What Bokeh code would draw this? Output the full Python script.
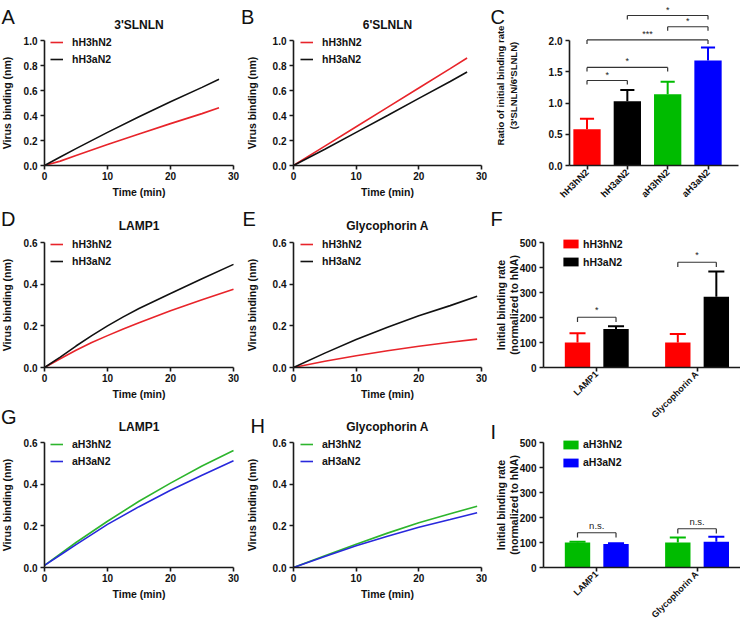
import math
from bokeh.plotting import figure
from bokeh.models import (Range1d, FixedTicker, PrintfTickFormatter, Legend,
                          LegendItem, Label, LinearAxis)
from bokeh.core.properties import value
from bokeh.embed import file_html
from bokeh.resources import INLINE

FONT = "Liberation Sans"
CW, CH = 740, 624

# ---------------- data ----------------
# Panel A: 3'SLNLN
time_A = [0, 2.5, 5, 10, 15, 20, 25, 27.7]
A_hH3hN2 = [0, 0.035, 0.08, 0.168, 0.252, 0.335, 0.415, 0.462]
A_hH3aN2 = [0, 0.068, 0.135, 0.265, 0.39, 0.51, 0.625, 0.69]
# Panel B: 6'SLNLN
time_B = [0, 5, 10, 15, 20, 25, 27.7]
B_hH3hN2 = [0, 0.155, 0.31, 0.465, 0.62, 0.775, 0.86]
B_hH3aN2 = [0, 0.13, 0.265, 0.4, 0.537, 0.672, 0.748]
# Panel D: LAMP1
time_D = [0, 2.5, 5, 7.5, 10, 12.5, 15, 20, 25, 30]
D_hH3hN2 = [0, 0.042, 0.083, 0.12, 0.153, 0.185, 0.215, 0.272, 0.325, 0.376]
D_hH3aN2 = [0, 0.05, 0.103, 0.153, 0.2, 0.243, 0.283, 0.355, 0.426, 0.495]
# Panel E: Glycophorin A
time_E = [0, 5, 10, 15, 20, 25, 29.3]
E_hH3hN2 = [0, 0.03, 0.056, 0.08, 0.102, 0.121, 0.136]
E_hH3aN2 = [0, 0.069, 0.134, 0.193, 0.248, 0.297, 0.342]
# Panel G: LAMP1
time_G = [0, 2.5, 5, 10, 15, 20, 25, 30]
G_aH3hN2 = [0.01, 0.065, 0.12, 0.222, 0.318, 0.405, 0.487, 0.562]
G_aH3aN2 = [0.01, 0.06, 0.11, 0.207, 0.292, 0.371, 0.443, 0.512]
# Panel H: Glycophorin A
time_H = [0, 5, 10, 15, 20, 25, 29.3]
H_aH3hN2 = [0, 0.056, 0.112, 0.165, 0.215, 0.258, 0.294]
H_aH3aN2 = [0, 0.053, 0.104, 0.15, 0.193, 0.23, 0.263]

# Panel C: ratio of initial binding rate
ratio_groups = ["hH3hN2", "hH3aN2", "aH3hN2", "aH3aN2"]
ratio_mean = [0.58, 1.03, 1.14, 1.68]
ratio_err = [0.17, 0.18, 0.20, 0.21]
ratio_colors = ["#ff0000", "#000000", "#00bb00", "#0000ff"]
C_br_left = [0, 0, 0, 2, 1]
C_br_right = [1, 2, 3, 3, 3]
C_br_y = [1.36, 1.57, 2.01, 2.22, 2.40]
C_br_text = ["*", "*", "***", "*", "*"]

# Panels F / I: initial binding rate (normalized to hNA)
rate_groups = ["LAMP1", "Glycophorin A"]
F_hH3hN2 = [100, 100]
F_hH3hN2_err = [37, 34]
F_hH3aN2 = [154, 283]
F_hH3aN2_err = [11, 101]
F_br_y = [201, 421]
F_br_text = ["*", "*"]
I_aH3hN2 = [100, 100]
I_aH3hN2_err = [3, 20]
I_aH3aN2 = [94, 103]
I_aH3aN2_err = [3, 20]
I_br_y = [139, 155]
I_br_text = ["n.s.", "n.s."]

time_ticks = [0, 10, 20, 30]
y_ticks_1 = [0, 0.2, 0.4, 0.6, 0.8, 1.0]
y_ticks_06 = [0, 0.2, 0.4, 0.6]
y_ticks_C = [0, 0.5, 1.0, 1.5, 2.0]
y_ticks_rate = [0, 100, 200, 300, 400, 500]

RED_L, BLACK_L, GREEN_L, BLUE_L = "#e8242a", "#111111", "#2db52d", "#2828dc"
RED_B, BLACK_B, GREEN_B, BLUE_B = "#ff0000", "#000000", "#00bb00", "#0000ff"

# ---------------- one canvas, one frame ----------------
p = figure(width=CW, height=CH, x_range=Range1d(0, CW), y_range=Range1d(0, CH),
           x_axis_location=None, y_axis_location=None, output_backend="svg",
           toolbar_location=None, tools="", min_border=0,
           min_border_left=0, min_border_right=0, min_border_top=0,
           min_border_bottom=0)
p.outline_line_color = None
p.background_fill_color = "white"
p.border_fill_color = "white"
p.xgrid.grid_line_color = None
p.ygrid.grid_line_color = None
p.xgrid.visible = False
p.ygrid.visible = False


def add_ranges(name, box, xr, yr):
    left, right, top, bottom = box
    kx = (right - left) / (xr[1] - xr[0])
    ky = (bottom - top) / (yr[1] - yr[0])
    p.extra_x_ranges = {**p.extra_x_ranges,
                        name + "_x": Range1d(xr[0] - left / kx,
                                             xr[0] + (CW - left) / kx)}
    p.extra_y_ranges = {**p.extra_y_ranges,
                        name + "_y": Range1d(yr[0] - (CH - bottom) / ky,
                                             yr[0] + bottom / ky)}
    return dict(x_range_name=name + "_x", y_range_name=name + "_y")


def style_axis(ax):
    ax.axis_line_width = 1.6
    ax.axis_line_color = "#1a1a1a"
    ax.major_tick_line_width = 1.6
    ax.major_tick_line_color = "#1a1a1a"
    ax.major_tick_out = 4
    ax.major_tick_in = 0
    ax.minor_tick_line_color = None
    ax.major_label_text_font = FONT
    ax.major_label_text_font_style = "bold"
    ax.major_label_text_font_size = "10px"
    ax.major_label_text_color = "#111111"
    ax.axis_label_text_font = FONT
    ax.axis_label_text_font_style = "bold"
    ax.axis_label_text_font_size = "10.5px"
    ax.axis_label_text_color = "#111111"


def add_axes(rn, xr, yr, xticks, yticks, yfmt, xlabel=None, ylabel=None,
             yl_standoff=8, ybounds=None):
    yax = LinearAxis(fixed_location=xr[0], bounds=ybounds or yr,
                     ticker=FixedTicker(ticks=yticks),
                     formatter=PrintfTickFormatter(format=yfmt), **rn)
    style_axis(yax)
    yax.major_label_standoff = 3
    if ylabel:
        yax.axis_label = ylabel
        yax.axis_label_standoff = yl_standoff
    p.add_layout(yax, "left")
    xax = LinearAxis(fixed_location=yr[0], bounds=xr,
                     ticker=FixedTicker(ticks=xticks), **rn)
    style_axis(xax)
    xax.major_label_standoff = 2
    if xlabel:
        xax.axis_label = xlabel
        xax.axis_label_standoff = 3
    p.add_layout(xax, "below")
    return xax, yax


def add_text(x, ref_y, text, size, bold=False, align="left",
             baseline="alphabetic", angle=0):
    p.add_layout(Label(x=x, y=CH - ref_y, text=text, text_font=FONT,
                       text_font_size=size,
                       text_font_style="bold" if bold else "normal",
                       text_color="#111111", text_align=align,
                       text_baseline=baseline, angle=angle))


def legend_at(items, gx, row1_center, glyph_w, glyph_h, spacing, standoff):
    height = 14 * 2 + spacing
    bottom = row1_center - 7 + height
    p.add_layout(Legend(items=items, location=(gx, CH - bottom), padding=0,
                        margin=0, spacing=spacing, glyph_width=glyph_w,
                        glyph_height=glyph_h, label_height=14,
                        label_standoff=standoff, background_fill_alpha=0,
                        border_line_color=None, label_text_font=FONT,
                        label_text_font_style="bold",
                        label_text_font_size="10.5px",
                        label_text_color="#111111"))


def add_brackets(rn, xl, xr_, ys, texts, leg, size, yoff):
    x0, y0, x1, y1 = [], [], [], []
    for a, b, y in zip(xl, xr_, ys):
        x0 += [a, a, b]
        y0 += [y, y, y]
        x1 += [b, a, b]
        y1 += [y, y - leg, y - leg]
    p.segment(x0=x0, y0=y0, x1=x1, y1=y1, line_color="#333333",
              line_width=1.2, **rn)
    p.text(x=[(a + b) / 2 for a, b in zip(xl, xr_)], y=ys, text=texts,
           text_font=value(FONT), text_font_size=size, text_color="#222222",
           text_align="center", text_baseline="bottom", y_offset=yoff, **rn)


def line_panel(name, box, t, s1, s2, c1, c2, n1, n2, ymax, yticks, title,
               title_base, yl_standoff, leg_x):
    xr, yr = (0, 30), (0, ymax)
    rn = add_ranges(name, box, xr, yr)
    add_axes(rn, xr, yr, time_ticks, yticks, "%.1f", "Time (min)",
             "Virus binding (nm)", yl_standoff)
    r1 = p.line(t, s1, line_color=c1, line_width=1.6, **rn)
    r2 = p.line(t, s2, line_color=c2, line_width=1.6, **rn)
    legend_at([LegendItem(label=n1, renderers=[r1]),
               LegendItem(label=n2, renderers=[r2])],
              leg_x, box[2] + 1.5, 13, 14, 3, 9)
    add_text((box[0] + box[1]) / 2, title_base, title, "12px", bold=True,
             align="center")


# ---------------- line panels ----------------
line_panel("A", (44, 233, 40, 165), time_A, A_hH3hN2, A_hH3aN2, RED_L,
           BLACK_L, "hH3hN2", "hH3aN2", 1.0, y_ticks_1, "3'SLNLN", 24, 8, 50)
line_panel("B", (293, 481, 40, 165), time_B, B_hH3hN2, B_hH3aN2, RED_L,
           BLACK_L, "hH3hN2", "hH3aN2", 1.0, y_ticks_1, "6'SLNLN", 24, 12,
           300)
line_panel("D", (44, 233, 242, 367), time_D, D_hH3hN2, D_hH3aN2, RED_L,
           BLACK_L, "hH3hN2", "hH3aN2", 0.6, y_ticks_06, "LAMP1", 225, 8, 50)
line_panel("E", (293, 481, 242, 367), time_E, E_hH3hN2, E_hH3aN2, RED_L,
           BLACK_L, "hH3hN2", "hH3aN2", 0.6, y_ticks_06, "Glycophorin A",
           225, 12, 300)
line_panel("G", (44, 233, 442, 567), time_G, G_aH3hN2, G_aH3aN2, GREEN_L,
           BLUE_L, "aH3hN2", "aH3aN2", 0.6, y_ticks_06, "LAMP1", 426.5, 8,
           50)
line_panel("H", (293, 481, 442, 567), time_H, H_aH3hN2, H_aH3aN2, GREEN_L,
           BLUE_L, "aH3hN2", "aH3aN2", 0.6, y_ticks_06, "Glycophorin A",
           426.5, 12, 300)

# ---------------- panel C ----------------
xrC, yrC = (-0.434, 3.756), (0, 2.0)
rnC = add_ranges("C", (569, 738, 40, 165), xrC, yrC)
xaxC, yaxC = add_axes(rnC, xrC, yrC, list(range(len(ratio_groups))),
                      y_ticks_C, "%.1f")
cx = list(range(len(ratio_groups)))
ctop = [m + e for m, e in zip(ratio_mean, ratio_err)]
p.vbar(x=cx, top=ratio_mean, width=0.677, bottom=0, fill_color=ratio_colors,
       line_color=None, **rnC)
p.segment(x0=cx, y0=ratio_mean, x1=cx, y1=ctop, line_color=ratio_colors,
          line_width=2, **rnC)
p.segment(x0=[x - 0.175 for x in cx], y0=ctop, x1=[x + 0.175 for x in cx],
          y1=ctop, line_color=ratio_colors, line_width=2, **rnC)
add_brackets(rnC, C_br_left, C_br_right, C_br_y, C_br_text, 0.065, "9px", -1)
xaxC.major_label_overrides = {i: n for i, n in enumerate(ratio_groups)}
xaxC.major_label_orientation = math.pi / 4
xaxC.major_label_text_font_size = "9.5px"
xaxC.major_label_standoff = 1
add_text(500, 85, "Ratio of initial binding rate", "9.5px", bold=True,
         align="center", baseline="middle", angle=math.pi / 2)
add_text(513, 85, "(3'SLNLN/6'SLNLN)", "9.5px", bold=True, align="center",
         baseline="middle", angle=math.pi / 2)


# ---------------- panels F and I ----------------
def rate_panel(name, box, s1, e1, s2, e2, c1, c2, n1, n2, br_y, br_text,
               br_size, row1_center):
    xr, yr = (-0.531, 1.433), (0, 500)
    rn = add_ranges(name, box, xr, yr)
    gx = list(range(len(rate_groups)))
    xax, yax = add_axes(rn, xr, yr, gx, y_ticks_rate, "%d")
    x1 = [i - 0.192 for i in gx]
    x2 = [i + 0.192 for i in gx]
    items = []
    for xs, s, e, c, n in ((x1, s1, e1, c1, n1), (x2, s2, e2, c2, n2)):
        r = p.vbar(x=xs, top=s, width=0.253, bottom=0, fill_color=c,
                   line_color=None, **rn)
        tops = [a + b for a, b in zip(s, e)]
        p.segment(x0=xs, y0=s, x1=xs, y1=tops, line_color=c, line_width=2,
                  **rn)
        p.segment(x0=[x - 0.08 for x in xs], y0=tops,
                  x1=[x + 0.08 for x in xs], y1=tops, line_color=c,
                  line_width=2, **rn)
        items.append(LegendItem(label=n, renderers=[r]))
    add_brackets(rn, x1, x2, br_y, br_text, 19, br_size, -2)
    legend_at(items, 561, row1_center, 19, 11, 4, 3)
    xax.major_label_overrides = {i: n for i, n in enumerate(rate_groups)}
    xax.major_label_orientation = math.pi / 4
    xax.major_label_text_font_size = "9px"
    xax.major_label_standoff = 1
    yc = (box[2] + box[3]) / 2
    add_text(500, yc, "Initial binding rate", "10.5px", bold=True,
             align="center", baseline="middle", angle=math.pi / 2)
    add_text(513, yc, "(normalized to hNA)", "10.5px", bold=True,
             align="center", baseline="middle", angle=math.pi / 2)


rate_panel("F", (543, 740, 242, 367), F_hH3hN2, F_hH3hN2_err, F_hH3aN2,
           F_hH3aN2_err, RED_B, BLACK_B, "hH3hN2", "hH3aN2", F_br_y,
           F_br_text, "9px", 243.7)
rate_panel("I", (543, 740, 442, 567), I_aH3hN2, I_aH3hN2_err, I_aH3aN2,
           I_aH3aN2_err, GREEN_B, BLUE_B, "aH3hN2", "aH3aN2", I_br_y,
           I_br_text, "9.5px", 444.3)

# ---------------- panel letters ----------------
letter_text = ["A", "B", "C", "D", "E", "F", "G", "H", "I"]
letter_x = [1, 240.5, 490, 0.5, 242, 490, 0.5, 250, 490]
letter_base = [16, 16.7, 16.7, 218, 218, 218, 416.7, 425, 431.7]
for t, lx, lb in zip(letter_text, letter_x, letter_base):
    add_text(lx, lb, t, "20px")

open("out.html", "w").write(file_html(p, INLINE))
